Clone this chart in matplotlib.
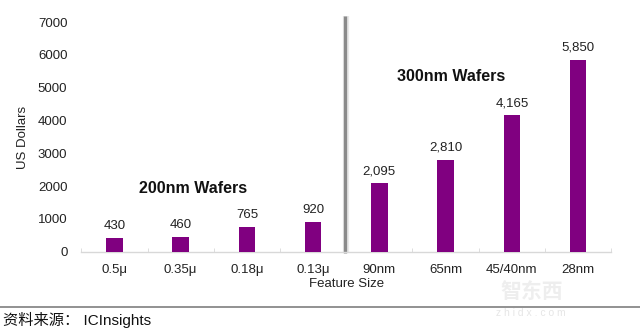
import matplotlib
matplotlib.use('Agg')
from matplotlib import pyplot as plt
import numpy as np

plt.rcParams['font.family'] = ['Liberation Sans', 'Noto Sans CJK SC', 'DejaVu Sans']

# wafer cost per feature size
sizes = ['0.5\u03bc', '0.35\u03bc', '0.18\u03bc', '0.13\u03bc', '90nm', '65nm', '45/40nm', '28nm']
costs = [430, 460, 765, 920, 2095, 2810, 4165, 5850]
y_ticks = [0, 1000, 2000, 3000, 4000, 5000, 6000, 7000]

purple = '#800080'

fig = plt.figure(figsize=(6.4, 3.3), dpi=100)
ax = fig.add_axes([0.127, 0.237, 0.828, 0.696])

x = np.arange(len(sizes))
ax.bar(x, costs, width=0.25, color=purple, zorder=3)
for xi, v in zip(x, costs):
    ax.text(xi, v + 180, '{:,}'.format(v), ha='center', va='bottom', fontsize=9.5, color='#222222')

ax.set_xlim(-0.5, len(sizes) - 0.5)
ax.set_ylim(0, 7000)
ax.set_yticks(y_ticks)
ax.set_yticklabels([str(t) for t in y_ticks], fontsize=9.5, color='#222222')
ax.set_xticks(x)
ax.set_xticklabels(sizes, fontsize=9.5, color='#222222')
ax.tick_params(axis='both', length=0)
ax.tick_params(axis='x', pad=9)
ax.tick_params(axis='y', pad=10)

# small boundary ticks between categories
ax.set_xticks(np.arange(len(sizes) + 1) - 0.5, minor=True)
ax.tick_params(axis='x', which='minor', length=3, color='#d8d8d8', direction='in')

for s in ['top', 'right', 'left']:
    ax.spines[s].set_visible(False)
ax.spines['bottom'].set_color('#d8d8d8')
ax.spines['bottom'].set_linewidth(1)

ax.set_ylabel('US Dollars', fontsize=9.5, color='#222222', labelpad=6)
ax.set_xlabel('Feature Size', fontsize=9.5, color='#222222', labelpad=1)

# divider between the two wafer sizes
ax.plot([3.50, 3.50], [-40, 7180], color='#e8e8e8', lw=4.5, clip_on=False, zorder=1,
        solid_capstyle='butt')
ax.plot([3.48, 3.48], [-40, 7180], color='#8a8a8a', lw=2.4, clip_on=False, zorder=2,
        solid_capstyle='butt')

ax.text(1.19, 1930, '200nm Wafers', ha='center', va='center', fontsize=11.5,
        fontweight='bold', color='#111111')
ax.text(5.08, 5350, '300nm Wafers', ha='center', va='center', fontsize=11.5,
        fontweight='bold', color='#111111')

# source footer
fig.add_artist(plt.Line2D([0, 1], [1 - 306.5 / 330] * 2, color='#7f7f7f', lw=1.2))
fig.text(0.004, 1 - 320 / 330, '资料来源： ICInsights', ha='left', va='center',
         fontsize=11, color='#111111')

# watermark
fig.text(0.83, 1 - 292 / 330, '智东西', ha='center', va='center', fontsize=15,
         color='#eeeeee', fontweight='bold')
fig.text(0.83, 1 - 313 / 330, 'z h i d x . c o m', ha='center', va='center', fontsize=7.5,
         color='#e6e6e6')

fig.savefig('out.png', dpi=100)
